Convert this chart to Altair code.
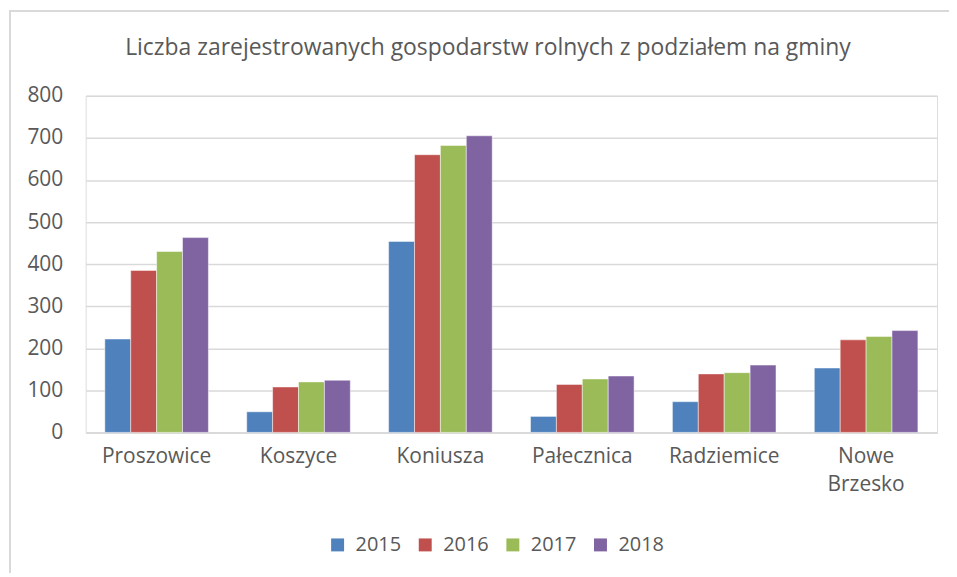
import altair as alt
import pandas as pd

gminy = ["Proszowice", "Koszyce", "Koniusza", "Pałecznica", "Radziemice", "Nowe Brzesko"]
lata = ["2015", "2016", "2017", "2018"]
v2015 = [222, 49, 454, 38, 73, 153]
v2016 = [385, 108, 660, 114, 139, 220]
v2017 = [430, 120, 682, 127, 142, 228]
v2018 = [463, 124, 705, 134, 160, 242]
kolory = ["#4F81BD", "#C0504D", "#9BBB59", "#8064A2"]
tytul = ["Liczba zarejestrowanych gospodarstw rolnych z podziałem na gminy"]

rows = []
for rok, vals in zip(lata, [v2015, v2016, v2017, v2018]):
    for g, v in zip(gminy, vals):
        rows.append({"gmina": g, "rok": rok, "liczba": v})
df = pd.DataFrame(rows)

W, H = 855, 338
FONT = "Open Sans"
GREY = "#595959"

bars = alt.Chart(df).mark_bar(stroke="#ffffff", strokeWidth=0.8, strokeOpacity=0.6).encode(
    x=alt.X("gmina:N", sort=gminy, title=None,
            scale=alt.Scale(paddingInner=0.27, paddingOuter=0.135),
            axis=alt.Axis(labelAngle=0, ticks=False, domain=True, domainColor="#d9d9d9",
                          domainWidth=1.5, labelPadding=13, labelFontSize=21,
                          labelLineHeight=28, labelColor=GREY, labelFont=FONT,
                          labelExpr="datum.label == 'Nowe Brzesko' ? ['Nowe', 'Brzesko'] : datum.label")),
    xOffset=alt.XOffset("rok:N", sort=lata),
    y=alt.Y("liczba:Q", title=None,
            scale=alt.Scale(domain=[0, 800]),
            axis=alt.Axis(values=[0, 100, 200, 300, 400, 500, 600, 700, 800], ticks=False,
                          domain=False, labelPadding=23, labelFontSize=21, labelColor=GREY,
                          labelFont=FONT, gridColor="#d9d9d9", gridWidth=1.5)),
    color=alt.Color("rok:N", sort=lata,
                    scale=alt.Scale(domain=lata, range=kolory),
                    legend=alt.Legend(title=None, orient="none", direction="horizontal",
                                      legendX=243, legendY=441, symbolType="square",
                                      symbolSize=169, symbolStrokeWidth=0, labelFontSize=20,
                                      labelColor=GREY, labelFont=FONT, columnPadding=14,
                                      labelOffset=8, padding=0)),
)

frame = alt.Chart(df).mark_rect(fill=None, stroke="#d9d9d9", strokeWidth=1.2, clip=False).encode(
    x=alt.value(-76), x2=alt.value(W + 40), y=alt.value(-85), y2=alt.value(H + 200)
)

title = alt.Chart(pd.DataFrame({"t": tytul})).mark_text(
    font=FONT, fontSize=23, color=GREY, align="center", baseline="middle", clip=False
).encode(text="t:N", x=alt.value(404), y=alt.value(-48))

chart = alt.layer(frame, bars, title).properties(
    width=W, height=H,
    padding={"left": 78, "top": 87, "right": 12, "bottom": 140},
    autosize=alt.AutoSizeParams(type="none"),
).configure_view(stroke=None).configure(background="#ffffff")

chart.save("out.html", embed_options={"renderer": "svg", "actions": False})
